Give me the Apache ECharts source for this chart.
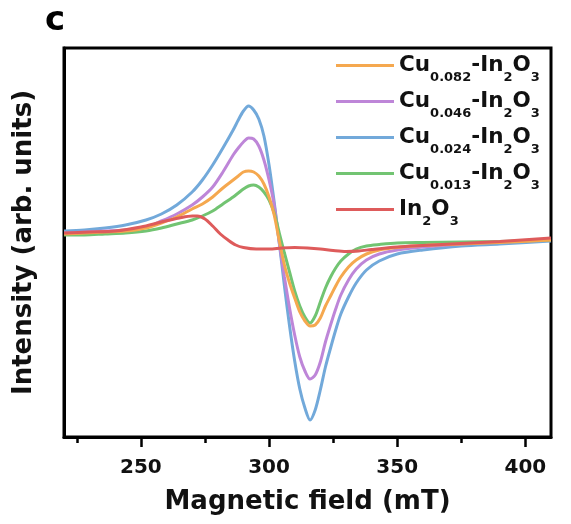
<!DOCTYPE html>
<html><head><meta charset="utf-8">
<script src="https://cdn.jsdelivr.net/npm/echarts@6/dist/echarts.min.js"></script>
<style>html,body{margin:0;padding:0;background:#fff}#c{width:571px;height:524px}</style>
</head><body><div id="c"></div>
<script>
// x: magnetic field (mT), y: EPR intensity (arb. units)
const fieldMT = [220,228,236,244,252,258,264,270,274,278,282,286,288,290,292,294,296,298,300,302,304,306,308,310,312,314,316,318,320,322,324,326,328,331,334,338,343,350,360,375,390,410];
const cu082 = [6,7,8,9,12,17,23,31,36,43,52,60,64,68,69,68,64,56,43,25,-1,-25,-43,-58,-72,-81,-86,-85,-78,-66,-56,-46,-37,-27,-20,-14,-10,-7.5,-5.5,-4,-2.5,0];
const cu046 = [7,8,9,10,13,19,26,35,43,53,68,85,92,98,102,101,94,80,60,35,-3,-37,-68,-95,-117,-131,-139,-135,-122,-102,-85,-69,-55,-40,-29,-20,-14,-10,-7,-4,-2,0];
const cu024 = [9,10,12,15,20,26,35,48,60,75,92,110,120,129,134,130,121,104,75,38,-3,-46,-86,-121,-149,-168,-180,-170,-150,-127,-108,-90,-74,-57,-43,-30,-21,-14,-10,-6,-4,-1];
const cu013 = [5,5,6,7,9,12,16,20,24,29,36,43,47,51,54,55,53,48,40,27,7,-13,-32,-51,-66,-77,-83,-76,-62,-48,-37,-28,-21,-14,-9,-6,-4.5,-3,-2.5,-2,-1.5,0];
const fieldIn = [220,230,240,250,258,265,270,272,275,278,281,284,287,290,295,300,305,310,315,320,325,330,335,340,350,360,375,390,410];
const in2o3 = [7,8,9,13,18,22,24,24,21,14,6,0,-5,-7.5,-9,-9,-8,-7.5,-8,-9,-10.5,-11.5,-11,-9.5,-7,-5.5,-3.5,-1.5,2];

const seriesNames = ['Cu0.082-In2O3','Cu0.046-In2O3','Cu0.024-In2O3','Cu0.013-In2O3','In2O3'];
const legendRich = {
  'Cu0.082-In2O3': '{m|Cu}{s|0.082}{m|-In}{s|2}{m|O}{s|3}',
  'Cu0.046-In2O3': '{m|Cu}{s|0.046}{m|-In}{s|2}{m|O}{s|3}',
  'Cu0.024-In2O3': '{m|Cu}{s|0.024}{m|-In}{s|2}{m|O}{s|3}',
  'Cu0.013-In2O3': '{m|Cu}{s|0.013}{m|-In}{s|2}{m|O}{s|3}',
  'In2O3': '{m|In}{s|2}{m|O}{s|3}'
};
const majorTicks = [250, 300, 350, 400];
const minorTicks = [225, 275, 325, 375];
const colors = {
  'Cu0.082-In2O3': '#F5A84F',
  'Cu0.046-In2O3': '#BE86D8',
  'Cu0.024-In2O3': '#72A9DA',
  'Cu0.013-In2O3': '#72C472',
  'In2O3': '#DE5B5B'
};
const zip = (xs, ys) => xs.map((x, i) => [x, ys[i]]);
const dataMap = {
  'Cu0.082-In2O3': zip(fieldMT, cu082), 'Cu0.046-In2O3': zip(fieldMT, cu046),
  'Cu0.024-In2O3': zip(fieldMT, cu024), 'Cu0.013-In2O3': zip(fieldMT, cu013),
  'In2O3': zip(fieldIn, in2o3)
};
const drawOrder = ['Cu0.024-In2O3','Cu0.046-In2O3','Cu0.013-In2O3','Cu0.082-In2O3','In2O3'];

const FF = 'DejaVu Sans';
const chart = echarts.init(document.getElementById('c'));
chart.setOption({
  animation: false,
  backgroundColor: '#fff',
  title: {text: 'c', left: 40, top: -1, textStyle: {fontSize: 34, fontWeight: 'bold', fontFamily: FF, color: '#000'}},
  grid: {left: 64, right: 20, top: 48, bottom: 87, show: true, borderColor: '#000', borderWidth: 3, backgroundColor: '#fff'},
  legend: {
    orient: 'vertical', left: 331, top: 42, itemWidth: 58, itemHeight: 3, itemGap: -1,
    icon: 'rect', data: seriesNames,
    formatter: n => legendRich[n],
    textStyle: {
      rich: {
        m: {fontSize: 21.5, fontWeight: 'bold', fontFamily: FF, color: '#111', lineHeight: 24, verticalAlign: 'middle'},
        s: {fontSize: 13, fontWeight: 'bold', fontFamily: FF, color: '#111', lineHeight: 13, padding: [24, 0, 0, 0], verticalAlign: 'middle'}
      }
    }
  },
  xAxis: [{
    type: 'value', min: 220, max: 410, position: 'bottom',
    axisLine: {show: true, onZero: false, lineStyle: {color: '#000', width: 3}},
    axisTick: {show: true, customValues: majorTicks, length: 10, lineStyle: {color: '#000', width: 2.5}},
    axisLabel: {customValues: majorTicks, fontSize: 20, fontWeight: 'bold', fontFamily: FF, color: '#111', margin: 21},
    splitLine: {show: false},
    name: 'Magnetic field (mT)', nameLocation: 'middle', nameGap: 52,
    nameTextStyle: {fontSize: 26, fontWeight: 'bold', fontFamily: FF, color: '#111'}
  }, {
    type: 'value', min: 220, max: 410, position: 'bottom',
    axisLine: {show: false, onZero: false},
    axisTick: {show: true, customValues: minorTicks, length: 6, lineStyle: {color: '#000', width: 2.5}},
    axisLabel: {show: false},
    splitLine: {show: false}
  }],
  yAxis: {
    type: 'value', min: -197, max: 192,
    axisLine: {show: true, onZero: false, lineStyle: {color: '#000', width: 3}},
    axisTick: {show: false}, axisLabel: {show: false}, splitLine: {show: false},
    name: 'Intensity (arb. units)', nameLocation: 'middle', nameGap: 27,
    nameTextStyle: {fontSize: 26, fontWeight: 'bold', fontFamily: FF, color: '#111'}
  },
  series: drawOrder.map(n => ({
    name: n, type: 'line', xAxisIndex: 0, data: dataMap[n], showSymbol: false,
    smooth: 0.3,
    color: colors[n], lineStyle: {width: 3, color: colors[n]}
  }))
});
</script></body></html>
